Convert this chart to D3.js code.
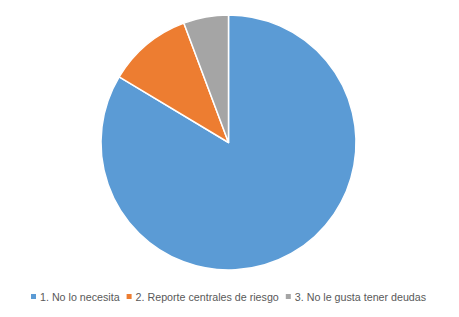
<!DOCTYPE html>
<html>
<head>
<meta charset="utf-8">
<script src="https://cdn.jsdelivr.net/npm/d3@7"></script>
<style>
  body { margin: 0; background: #fff; }
  svg { display: block; }
  .legend text { font-family: "Liberation Sans", Arial, sans-serif; font-size: 10.7px; fill: #595959; }
</style>
</head>
<body>
<svg id="chart" width="459" height="317"></svg>
<script>
// categories and values (percent)
categories = ["1. No lo necesita", "2. Reporte centrales de riesgo", "3. No le gusta tener deudas"];
values = [83.6, 10.7, 5.7];
colors = ["#5b9bd5", "#ed7d31", "#a5a5a5"];

let svg = d3.select("#chart");
let cx = 228.5, cy = 142.5, radius = 127.5;

let pie = d3.pie().sort(null)
    .startAngle(0).endAngle(2 * Math.PI);
let arc = d3.arc().innerRadius(0).outerRadius(radius);

let g = svg.append("g").attr("transform", "translate(" + cx + "," + cy + ")");
g.selectAll("path")
    .data(pie(values))
    .enter()
    .append("path")
    .attr("d", arc)
    .attr("fill", (d, i) => colors[i])
    .attr("stroke", "#fff")
    .attr("stroke-width", 1.5)
    .attr("stroke-linejoin", "round");

// legend, items laid out by measuring text
let legend = svg.append("g").attr("class", "legend");
let x = 31, y = 297;
categories.forEach(function (c, i) {
    let item = legend.append("g");
    item.append("rect")
        .attr("x", x).attr("y", y - 3)
        .attr("width", 5).attr("height", 5)
        .attr("fill", colors[i]);
    let t = item.append("text")
        .attr("x", x + 9).attr("y", y)
        .attr("dy", "0.35em")
        .text(c);
    x = x + 9 + t.node().getComputedTextLength() + 7;
});
</script>
</body>
</html>
